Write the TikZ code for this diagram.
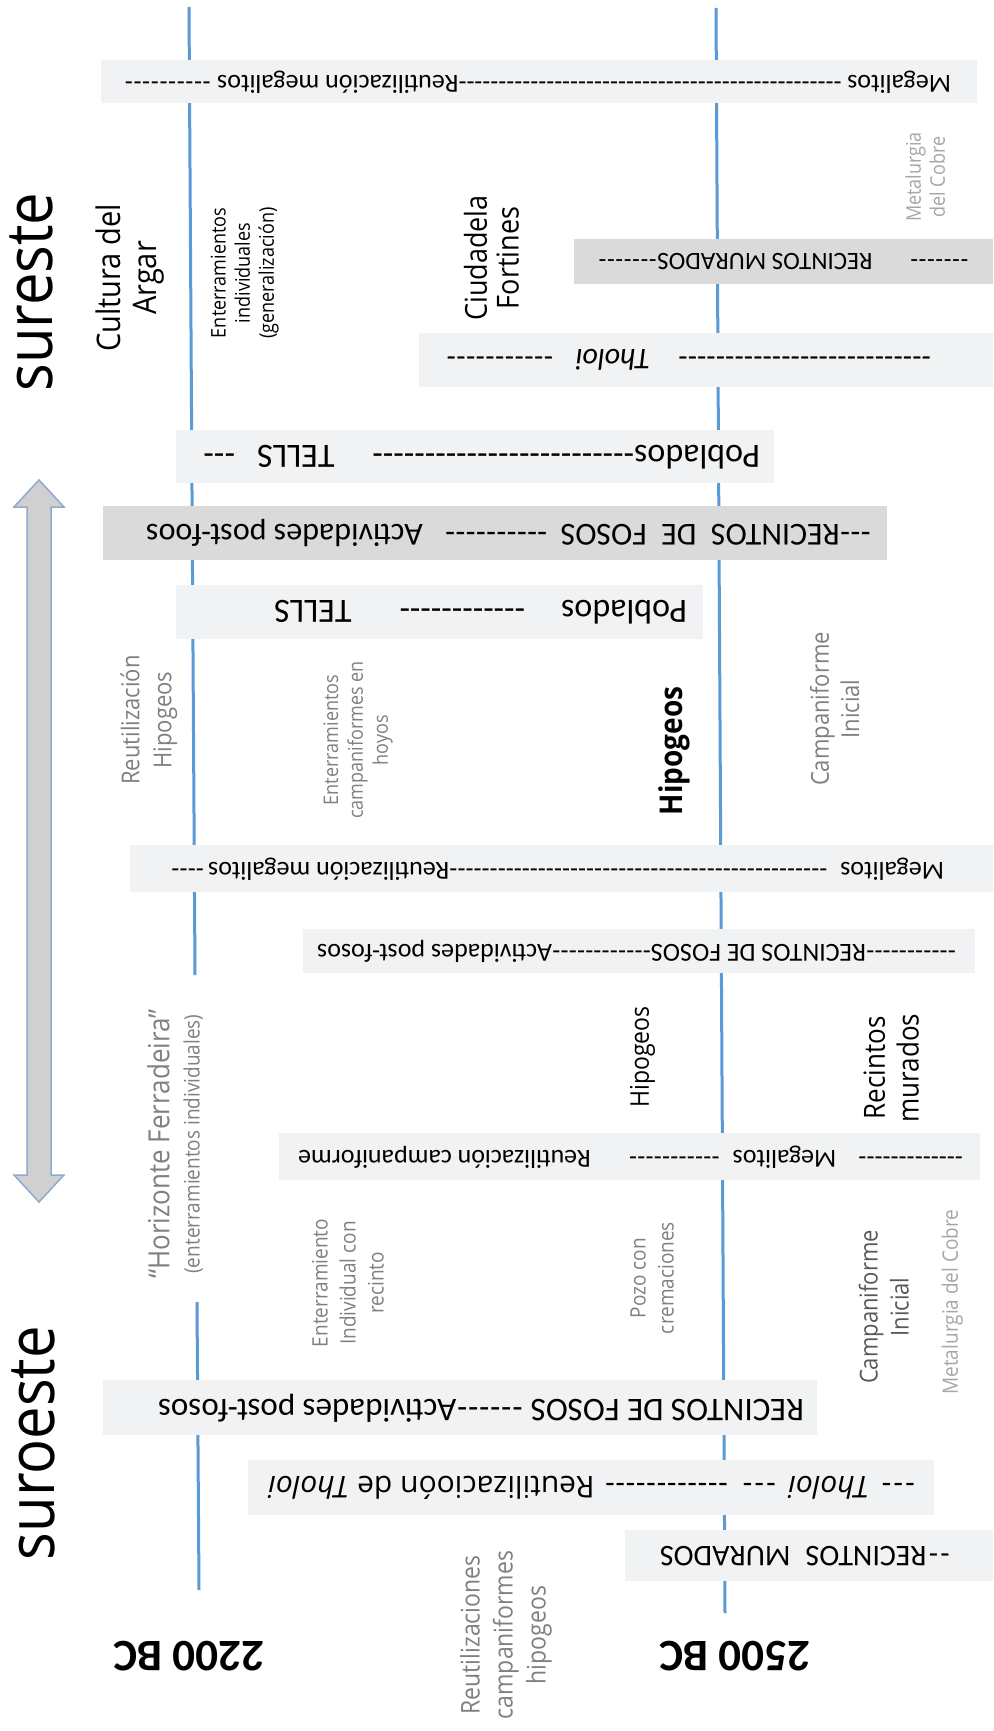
\documentclass[tikz,border=0pt]{standalone}
\usepackage{fontspec}
\usepackage{graphicx}
\setmainfont{Open Sans}
\newfontfamily\boxfont{Carlito}
\definecolor{tlblue}{RGB}{91,155,213}
\definecolor{boxlight}{RGB}{240,242,244}
\definecolor{boxdark}{RGB}{218,218,218}
\definecolor{lblgray}{RGB}{128,128,128}
\definecolor{lblgraylight}{RGB}{166,166,166}
\definecolor{lbldark}{RGB}{89,89,89}
\definecolor{arrfill}{RGB}{208,208,208}
\definecolor{arrline}{RGB}{143,170,204}
\newcommand\dfill[1]{\xleaders\hbox{-}\hskip 0pt plus #1fill\relax}
\newcommand\fs[2]{\fontsize{#1}{#2}\selectfont}
\newcommand\sv[1]{\scalebox{1}[1.12]{\begin{tabular}{@{}c@{}}#1\end{tabular}}}
\newcommand\svone[1]{\scalebox{1}[1.12]{#1}}
\begin{document}
\begin{tikzpicture}[x=1pt,y=-1pt,
  tlbox/.style={draw=none, inner sep=0pt, outer sep=0pt},
  light/.style={tlbox, fill=boxlight},
  dark/.style={tlbox, fill=boxdark},
  btext/.style={inner sep=0pt, rotate=180},
  lbl/.style={rotate=90, inner sep=0pt},
  tline/.style={draw=tlblue, line width=3pt},
  arrowshape/.style={fill=arrfill, draw=arrline, line width=1.5pt, line join=miter},
]
\useasboundingbox[fill=white] (0,0) rectangle (993,1731);

% timeline lines
\coordinate (LT) at (189,7);
\coordinate (LG1) at (195,975);
\coordinate (LG2) at (197,1302);
\coordinate (LB) at (199,1590);
\coordinate (RT) at (716,8);
\coordinate (RB) at (725,1613);
\draw[tline] (LT) -- (LG1);
\draw[tline] (LG2) -- (LB);
\draw[tline] (RT) -- (RB);

% double arrow
\draw[arrowshape] (39,480) -- (64,507) -- (51,507) -- (51,1175) -- (64,1175) -- (39,1202)
  -- (14,1175) -- (27,1175) -- (27,507) -- (14,507) -- cycle;

% boxes
\node[light, minimum width=876pt, minimum height=43pt] (bA) at (539,81.5) {};
\node[btext, font=\boxfont\fs{26}{26}] (tA) at (537.5,82) {\hbox to 827pt{Megalitos \dfill{4.4}Reutilización megalitos \dfill{1}}};

\node[dark, minimum width=419pt, minimum height=45pt] (bB) at (783.5,261.5) {};
\node[btext, font=\boxfont\fs{25}{25}] (tB) at (783.5,262) {\hbox to 371pt{\dfill{1}\hspace{37pt}RECINTOS MURADOS\dfill{1}}};

\node[light, minimum width=574pt, minimum height=54pt] (bC) at (706,360) {};
\node[btext, font=\boxfont\fs{30}{30}] (tC) at (688.5,360) {\hbox to 485pt{\dfill{2.35}\hspace{28pt}\textit{Tholoi}\hspace{22pt}\dfill{1}}};

\node[light, minimum width=598pt, minimum height=53pt] (bD) at (475,456.5) {};
\node[btext, font=\boxfont\fs{34}{34}] (tD) at (481.5,457) {\hbox to 557pt{Poblados\dfill{8.2}\hspace{38pt}TELLS\hspace{22pt}\dfill{1}}};

\node[dark, minimum width=784pt, minimum height=54pt] (bE) at (495,533) {};
\node[btext, font=\boxfont\fs{32}{32}] (tE) at (508.5,533) {\hbox to 725pt{\dfill{1}RECINTOS\hspace{0.45em}DE\hspace{0.45em}FOSOS\hspace{13pt}\dfill{3.3}\hspace{22pt}Actividades post-foos}};

\node[light, minimum width=527pt, minimum height=54pt] (bF) at (439.5,612) {};
\node[btext, font=\boxfont\fs{34}{34}] (tF) at (480.5,612) {\hbox to 413pt{Poblados\hspace{36pt}\dfill{1}\hspace{48pt}TELLS}};

\node[light, minimum width=863pt, minimum height=47pt] (bG) at (561.5,868.5) {};
\node[btext, font=\boxfont\fs{26}{26}] (tG) at (557.5,869) {\hbox to 773pt{Megalitos\hspace{13pt}\dfill{11.5}Reutilización megalitos\hspace{4pt}\dfill{1}}};

\node[light, minimum width=672pt, minimum height=44pt] (bH) at (639,951) {};
\node[btext, font=\boxfont\fs{26}{26}] (tH) at (636.5,951) {\hbox to 639pt{\dfill{1}RECINTOS DE FOSOS\dfill{1.1}Actividades post-fosos}};

\node[light, minimum width=701pt, minimum height=47pt] (bI) at (629.5,1156.5) {};
\node[btext, font=\boxfont\fs{26}{26}] (tI) at (630.5,1157) {\hbox to 665pt{\dfill{1.15}\hspace{22pt}Megalitos\hspace{13pt}\dfill{1}\hspace{38pt}Reutilización campaniforme}};

\node[light, minimum width=714pt, minimum height=55pt] (bJ) at (460,1407.5) {};
\node[btext, font=\boxfont\fs{33}{33}] (tJ) at (481,1408) {\hbox to 646pt{RECINTOS DE FOSOS \dfill{1}Actividades post-fosos}};

\node[light, minimum width=686pt, minimum height=55pt] (bK) at (591,1487.5) {};
\node[btext, font=\fs{30}{30}] (tK) at (592.5,1488) {\hbox to 649pt{\dfill{1}\hspace{10pt}\textit{Tholoi}\hspace{10pt}\dfill{1}\hspace{12pt}\dfill{3.3}\hspace{10pt}Reutilizacioón de \textit{Tholoi}}};

\node[light, minimum width=368pt, minimum height=51pt] (bL) at (809,1555.5) {};
\node[btext, font=\boxfont\fs{30}{30}] (tL) at (806,1556) {\hbox to 292pt{\dfill{1}RECINTOS\hspace{0.5em}MURADOS}};

% year labels
\node[btext, font=\boxfont\bfseries\fs{45}{45}] (y2200) at (189,1656) {2200 BC};
\node[btext, font=\boxfont\bfseries\fs{45}{45}] (y2500) at (735,1656) {2500 BC};

% region labels
\node[lbl, font=\fs{58}{58}] (sureste) at (31,292) {\svone{sureste}};
\node[lbl, font=\fs{58}{58}] (suroeste) at (33,1443) {\svone{suroeste}};

% sureste labels
\node[lbl, font=\fs{29}{32}] (argar) at (131,278) {\sv{Cultura del\\Argar}};
\node[lbl, font=\fs{18}{21.5}] (entind) at (245,273) {\sv{Enterramientos\\individuales\\(generalización)}};
\node[lbl, font=\fs{27}{28}] (ciud) at (496,258) {\sv{Ciudadela\\Fortines}};
\node[lbl, font=\fs{18}{21.5}, text=lblgraylight] (metal1) at (928,177) {\sv{Metalurgia\\del Cobre}};
\node[lbl, font=\fs{22}{28.5}, text=lblgray] (reuthip) at (149,720) {\sv{Reutilización\\Hipogeos}};
\node[lbl, font=\fs{18}{22.3}, text=lblgray] (entcamp) at (358,740) {\sv{Enterramientos\\campaniformes en\\hoyos}};
\node[lbl, font=\bfseries\fs{28}{30}] (hip1) at (676,751) {\sv{Hipogeos}};
\node[lbl, font=\fs{22}{27}, text=lblgray] (campi1) at (838,709) {\sv{Campaniforme\\Inicial}};

% suroeste labels
\node[lbl, font=\fs{19}{27}, text=lblgray] (horiz) at (178,1144)
  {\sv{{\fs{26}{27}“Horizonte Ferradeira”}\\(enterramientos individuales)}};
\node[lbl, font=\fs{23}{26}] (hip2) at (643,1057) {\sv{Hipogeos}};
\node[lbl, font=\fs{26}{30}] (recmur) at (895,1068) {\sv{Recintos\\murados}};
\node[lbl, font=\fs{19}{25}, text=lblgray] (entrec) at (350,1283) {\sv{Enterramiento\\Individual con\\recinto}};
\node[lbl, font=\fs{19}{25}, text=lblgray] (pozo) at (654,1278) {\sv{Pozo con\\cremaciones}};
\node[lbl, font=\fs{22}{27.7}, text=lbldark] (campi2) at (887,1307) {\sv{Campaniforme\\Inicial}};
\node[lbl, font=\fs{19}{22}, text=lblgraylight] (metal2) at (953,1302) {\sv{Metalurgia del Cobre}};
\node[lbl, font=\fs{23}{29.5}, text=lblgray] (reutcamp) at (506,1635) {\sv{Reutilizaciones\\campaniformes\\hipogeos}};
\end{tikzpicture}
\end{document}
